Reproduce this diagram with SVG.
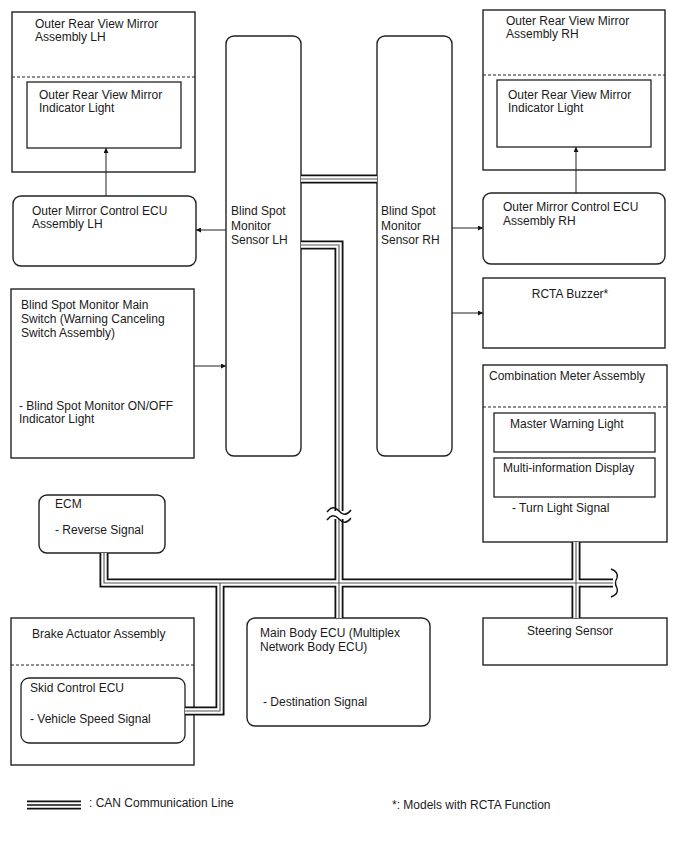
<svg xmlns="http://www.w3.org/2000/svg" xmlns:xlink="http://www.w3.org/1999/xlink" width="688" height="852" viewBox="0 0 688 852">
<style>
  text { font-family: "Liberation Sans", Arial, sans-serif; font-size: 12px; fill: #1a1a1a; }
  .box { fill: #fff; stroke: #222; stroke-width: 1.4; }
  .inner { fill: none; stroke: #222; stroke-width: 1.3; }
  .dash { stroke: #222; stroke-width: 1.2; stroke-dasharray: 3 2; fill: none; }
  .arrow { stroke: #222; stroke-width: 1; fill: none; marker-end: url(#ah); }
  .can-o { stroke: #111; stroke-width: 9; fill: none; stroke-linejoin: miter; stroke-linecap: butt; }
  .can-w { stroke: #fff; stroke-width: 5.4; fill: none; stroke-linejoin: miter; stroke-linecap: butt; }
  .can-m { stroke: #555; stroke-width: 1.1; fill: none; stroke-linejoin: miter; stroke-linecap: butt; }
  .brk { stroke: #111; stroke-width: 1.4; fill: none; }
  .mid { text-anchor: middle; }
</style>
<defs>
  <marker id="ah" viewBox="0 0 10 10" refX="10" refY="5" markerWidth="7" markerHeight="5" orient="auto" markerUnits="userSpaceOnUse">
    <path d="M0,0 L10,5 L0,10 Z" fill="#111"/>
  </marker>
  <path id="c1" d="M301,179 H377"/>
  <path id="c2" d="M301,245 H339 V618"/>
  <path id="c3" d="M104,553 V583 H613"/>
  <path id="c4" d="M185,711 H220 V583"/>
  <path id="c5" d="M576,542 V618"/>
  <path id="cl" d="M27,805 H81"/>
</defs>

<g id="mirror-lh">
  <rect class="box" x="12" y="12" width="183" height="160"/>
  <line class="dash" x1="12" y1="77" x2="195" y2="77"/>
  <text x="35" y="28">Outer Rear View Mirror</text>
  <text x="35" y="41">Assembly LH</text>
  <rect class="inner" x="27" y="82" width="154" height="66"/>
  <text x="39" y="99">Outer Rear View Mirror</text>
  <text x="39" y="112">Indicator Light</text>
</g>

<g id="mirror-ecu-lh">
  <rect class="box" x="13" y="196" width="183" height="70" rx="8"/>
  <text x="32" y="215">Outer Mirror Control ECU</text>
  <text x="32" y="228">Assembly LH</text>
</g>

<g id="sensor-lh">
  <rect class="box" x="226" y="36" width="75" height="420" rx="8"/>
  <text x="231" y="215">Blind Spot</text>
  <text x="231" y="230">Monitor</text>
  <text x="231" y="244">Sensor LH</text>
</g>

<g id="sensor-rh">
  <rect class="box" x="377" y="36" width="75" height="420" rx="8"/>
  <text x="381" y="215">Blind Spot</text>
  <text x="381" y="230">Monitor</text>
  <text x="381" y="244">Sensor RH</text>
</g>

<g id="mirror-rh">
  <rect class="box" x="483" y="10" width="182" height="160"/>
  <line class="dash" x1="483" y1="75" x2="665" y2="75"/>
  <text x="506" y="25">Outer Rear View Mirror</text>
  <text x="506" y="38">Assembly RH</text>
  <rect class="inner" x="497" y="80" width="154" height="67"/>
  <text x="508" y="99">Outer Rear View Mirror</text>
  <text x="508" y="112">Indicator Light</text>
</g>

<g id="mirror-ecu-rh">
  <rect class="box" x="483" y="193" width="182" height="71" rx="8"/>
  <text x="503" y="211">Outer Mirror Control ECU</text>
  <text x="503" y="225">Assembly RH</text>
</g>

<g id="rcta-buzzer">
  <rect class="box" x="483" y="278" width="182" height="70"/>
  <text class="mid" x="570" y="298">RCTA Buzzer*</text>
</g>

<g id="main-switch">
  <rect class="box" x="11" y="289" width="183" height="169"/>
  <text x="21" y="309">Blind Spot Monitor Main</text>
  <text x="21" y="323">Switch (Warning Canceling</text>
  <text x="21" y="337">Switch Assembly)</text>
  <text x="19" y="410">- Blind Spot Monitor ON/OFF</text>
  <text x="19" y="423">Indicator Light</text>
</g>

<g id="combination-meter">
  <rect class="box" x="483" y="365" width="184" height="177"/>
  <line class="dash" x1="483" y1="407" x2="667" y2="407"/>
  <text x="489" y="380">Combination Meter Assembly</text>
  <rect class="inner" x="494" y="413" width="161" height="39"/>
  <text x="510" y="428">Master Warning Light</text>
  <rect class="inner" x="494" y="458" width="161" height="39"/>
  <text x="503" y="472">Multi-information Display</text>
  <text x="512" y="512">- Turn Light Signal</text>
</g>

<g id="ecm">
  <rect class="box" x="39" y="495" width="126" height="58" rx="8"/>
  <text x="55" y="508">ECM</text>
  <text x="55" y="534">- Reverse Signal</text>
</g>

<g id="brake-actuator">
  <rect class="box" x="11" y="618" width="183" height="147"/>
  <line class="dash" x1="11" y1="665" x2="194" y2="665"/>
  <text x="32" y="638">Brake Actuator Assembly</text>
  <rect class="inner" x="21" y="678" width="164" height="65" rx="8"/>
  <text x="30" y="692">Skid Control ECU</text>
  <text x="30" y="723">- Vehicle Speed Signal</text>
</g>

<g id="main-body-ecu">
  <rect class="box" x="247" y="618" width="183" height="108" rx="8"/>
  <text x="260" y="637">Main Body ECU (Multiplex</text>
  <text x="260" y="651">Network Body ECU)</text>
  <text x="263" y="706">- Destination Signal</text>
</g>

<g id="steering-sensor">
  <rect class="box" x="483" y="618" width="184" height="47"/>
  <text class="mid" x="570" y="635">Steering Sensor</text>
</g>

<g id="connectors">
  <g class="can-o"><use href="#c1"/><use href="#c2"/><use href="#c3"/><use href="#c4"/><use href="#c5"/><use href="#cl"/></g>
  <g class="can-w"><use href="#c1"/><use href="#c2"/><use href="#c3"/><use href="#c4"/><use href="#c5"/><use href="#cl"/></g>
  <g class="can-m"><use href="#c1"/><use href="#c2"/><use href="#c3"/><use href="#c4"/><use href="#c5"/></g>
  <path d="M27,805 H81" stroke="#111" stroke-width="1.6"/>
  <rect x="329" y="511" width="20" height="8" fill="#fff"/>
  <path class="brk" d="M327,512 Q333,504 339,511 T351,510"/>
  <path class="brk" d="M327,520 Q333,512 339,519 T351,518"/>
  <path class="brk" d="M611,569 Q619,572 617,578 Q614,583 617,588 Q619,594 611,597"/>
  <path class="arrow" d="M106,196 V148"/>
  <path class="arrow" d="M576,193 V147"/>
  <path class="arrow" d="M226,230 H196"/>
  <path class="arrow" d="M452,228 H483"/>
  <path class="arrow" d="M452,313 H483"/>
  <path class="arrow" d="M194,366 H226"/>
</g>

<g id="legend">
  <text x="89" y="807">: CAN Communication Line</text>
  <text x="392" y="809">*: Models with RCTA Function</text>
</g>
</svg>
